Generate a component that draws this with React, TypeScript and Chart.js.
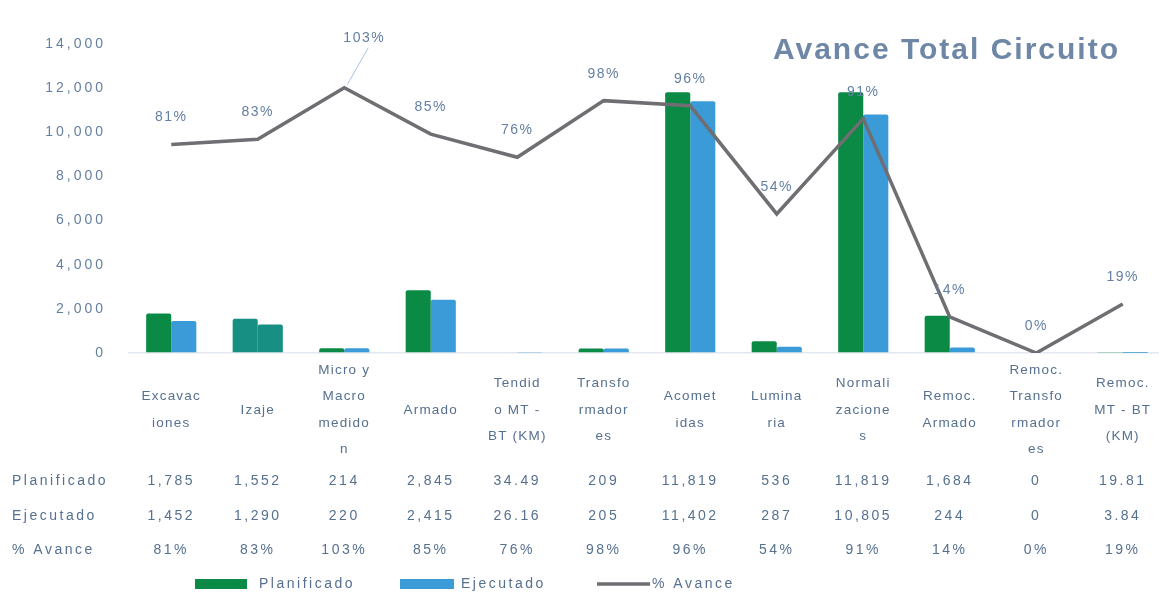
import React, { useEffect, useRef } from "react";
import { Chart, registerables } from "chart.js";

Chart.register(...registerables);

// ---------------- data ----------------
const categories: string[][] = [
  ["Excavac", "iones"],
  ["Izaje"],
  ["Micro y", "Macro", "medido", "n"],
  ["Armado"],
  ["Tendid", "o MT -", "BT (KM)"],
  ["Transfo", "rmador", "es"],
  ["Acomet", "idas"],
  ["Lumina", "ria"],
  ["Normali", "zacione", "s"],
  ["Remoc.", "Armado"],
  ["Remoc.", "Transfo", "rmador", "es"],
  ["Remoc.", "MT - BT", "(KM)"],
];
const planificado = [1785, 1552, 214, 2845, 34.49, 209, 11819, 536, 11819, 1684, 0, 19.81];
const ejecutado = [1452, 1290, 220, 2415, 26.16, 205, 11402, 287, 10805, 244, 0, 3.84];
const avance = [81, 83, 103, 85, 76, 98, 96, 54, 91, 14, 0, 19];
const seriesNames = ["Planificado", "Ejecutado", "% Avance"];
const title = "Avance Total Circuito";
const yMax = 14000;
const yStep = 2000;

// ---------------- styles ----------------
const GREEN = "#0b8a45";
const BLUE = "#3a9bd8";
const TEAL = "#178f82";
const LINE = "#6e6e73";
const TEXT = "#56708f";
const LABEL = "#637fa2";
const TITLE = "#6e87a6";
const FONT = '"Liberation Sans", Arial, sans-serif';

const fmt = (v: number) =>
  Number.isInteger(v) ? v.toLocaleString("en-US") : v.toFixed(2);

const overlay = {
  id: "overlay",
  afterDraw(chart: any) {
    const ctx: CanvasRenderingContext2D = chart.ctx;
    const xs = chart.scales.x;
    const ys = chart.scales.y;
    const area = chart.chartArea;
    ctx.save();

    // y tick labels
    ctx.font = `14px ${FONT}`;
    (ctx as any).letterSpacing = "3px";
    ctx.fillStyle = LABEL;
    ctx.textAlign = "right";
    ctx.textBaseline = "middle";
    ys.ticks.forEach((t: any) => {
      ctx.fillText(fmt(t.value), area.left - 22, ys.getPixelForValue(t.value));
    });

    // line data labels
    const meta = chart.getDatasetMeta(2);
    ctx.font = `14px ${FONT}`;
    (ctx as any).letterSpacing = "1.5px";
    ctx.textAlign = "center";
    ctx.textBaseline = "middle";
    meta.data.forEach((pt: any, i: number) => {
      const raised = avance[i] > 100;
      const lx = pt.x + (raised ? 20 : 0);
      const ly = pt.y - (raised ? 50 : 27);
      if (raised) {
        ctx.strokeStyle = "#a9c3e0";
        ctx.lineWidth = 1;
        ctx.beginPath();
        ctx.moveTo(lx + 4, ly + 10);
        ctx.lineTo(pt.x + 3, pt.y - 3);
        ctx.stroke();
      }
      ctx.fillStyle = LABEL;
      ctx.fillText(avance[i] + "%", lx, ly);
    });

    // title
    ctx.font = `bold 30px ${FONT}`;
    (ctx as any).letterSpacing = "2px";
    ctx.fillStyle = TITLE;
    ctx.textAlign = "right";
    ctx.fillText(title, 1120, 51);

    // category labels (data table header)
    ctx.fillStyle = TEXT;
    ctx.font = `13.5px ${FONT}`;
    (ctx as any).letterSpacing = "1.2px";
    ctx.textAlign = "center";
    const lh = 26.5;
    const headCenter = area.bottom + 57;
    categories.forEach((lines, i) => {
      const cx = xs.getPixelForValue(i);
      const start = headCenter - ((lines.length - 1) * lh) / 2;
      lines.forEach((ln, k) => ctx.fillText(ln, cx, start + k * lh));
    });

    // data table rows
    const rows = [
      { name: seriesNames[0], vals: planificado.map(fmt) },
      { name: seriesNames[1], vals: ejecutado.map(fmt) },
      { name: seriesNames[2], vals: avance.map((v) => v + "%") },
    ];
    const rowY = [area.bottom + 128, area.bottom + 163, area.bottom + 197];
    ctx.font = `14px ${FONT}`;
    (ctx as any).letterSpacing = "2.5px";
    rows.forEach((r, ri) => {
      ctx.textAlign = "left";
      ctx.fillText(r.name, 12, rowY[ri]);
      ctx.textAlign = "center";
      r.vals.forEach((v, i) => ctx.fillText(v, xs.getPixelForValue(i), rowY[ri]));
    });

    // legend
    const ly = area.bottom + 231;
    ctx.textAlign = "left";
    ctx.fillStyle = GREEN;
    ctx.fillRect(195, ly - 5, 52, 10);
    ctx.fillStyle = TEXT;
    ctx.fillText(seriesNames[0], 259, ly);
    ctx.fillStyle = BLUE;
    ctx.fillRect(400, ly - 5, 54, 10);
    ctx.fillStyle = TEXT;
    ctx.fillText(seriesNames[1], 461, ly);
    ctx.strokeStyle = LINE;
    ctx.lineWidth = 3.5;
    ctx.beginPath();
    ctx.moveTo(597, ly);
    ctx.lineTo(650, ly);
    ctx.stroke();
    ctx.fillText(seriesNames[2], 652, ly);

    ctx.restore();
  },
};

export default function App() {
  const ref = useRef<HTMLCanvasElement>(null);

  useEffect(() => {
    if (!ref.current) return;
    const chart = new Chart(ref.current, {
      type: "bar",
      data: {
        labels: categories.map((c) => c.join(" ")),
        datasets: [
          {
            type: "bar",
            label: seriesNames[0],
            data: planificado,
            backgroundColor: planificado.map((_, i) => (i === 1 ? TEAL : GREEN)),
            borderRadius: 2,
            categoryPercentage: 0.58,
            barPercentage: 1,
            yAxisID: "y",
            order: 2,
          },
          {
            type: "bar",
            label: seriesNames[1],
            data: ejecutado,
            backgroundColor: ejecutado.map((_, i) => (i === 1 ? TEAL : BLUE)),
            borderRadius: 2,
            categoryPercentage: 0.58,
            barPercentage: 1,
            yAxisID: "y",
            order: 2,
          },
          {
            type: "line",
            label: seriesNames[2],
            data: avance,
            borderColor: LINE,
            borderWidth: 3.5,
            pointRadius: 0,
            tension: 0,
            fill: false,
            yAxisID: "y1",
            order: 0,
          } as any,
        ],
      },
      options: {
        responsive: false,
        animation: false,
        devicePixelRatio: 1,
        layout: { padding: { top: 44, bottom: 242, left: 0, right: 4 } },
        plugins: {
          legend: { display: false },
          tooltip: { enabled: false },
          title: { display: false },
        },
        scales: {
          x: { display: false },
          y: {
            min: 0,
            max: yMax,
            ticks: { stepSize: yStep, display: false },
            grid: {
              color: (c: any) => (c.tick && c.tick.value === 0 ? "#e3e8ee" : "rgba(0,0,0,0)"),
              drawTicks: false,
              lineWidth: 1.5,
            },
            border: { display: false },
            afterFit: (s: any) => {
              s.width = 128;
            },
          },
          y1: {
            display: false,
            min: 0,
            max: 120,
            position: "right",
          },
        },
      },
      plugins: [overlay],
    });
    return () => chart.destroy();
  }, []);

  return (
    <div
      style={{
        position: "fixed",
        left: 0,
        top: 0,
        width: 1159,
        height: 595,
        overflow: "hidden",
        background: "#fff",
      }}
    >
      <canvas ref={ref} width={1170} height={595} style={{ width: 1170, height: 595 }} />
    </div>
  );
}
